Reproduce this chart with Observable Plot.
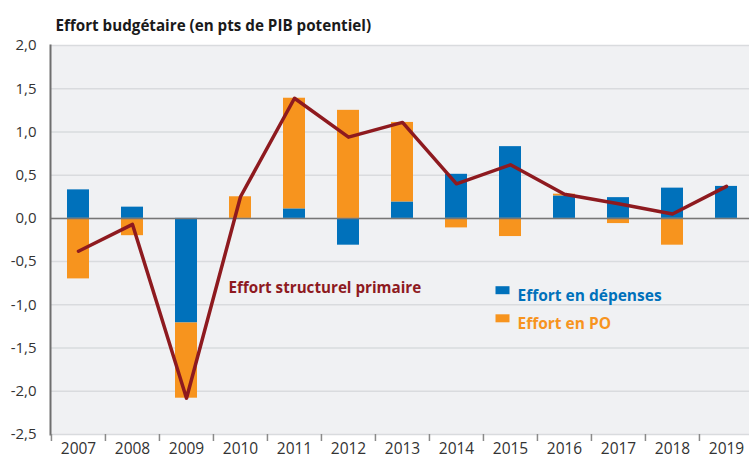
<!DOCTYPE html>
<html><head><meta charset="utf-8">
<script src="https://cdn.jsdelivr.net/npm/d3@7"></script>
<script src="https://cdn.jsdelivr.net/npm/@observablehq/plot@0.6"></script>
<style>body{margin:0;background:#fff;font-family:"Open Sans",sans-serif}</style>
</head><body><div id="chart"></div>
<script>
const years = ["2007","2008","2009","2010","2011","2012","2013","2014","2015","2016","2017","2018","2019"];
const depenses = [0.33, 0.13, -1.21, 0.0, 0.11, -0.31, 0.19, 0.51, 0.83, 0.26, 0.24, 0.35, 0.37];
const po = [-0.70, -0.20, -0.87, 0.25, 1.28, 1.25, 0.92, -0.11, -0.21, 0.02, -0.06, -0.31, 0.0];
const structurel = [-0.38, -0.07, -2.08, 0.25, 1.39, 0.94, 1.11, 0.40, 0.62, 0.28, 0.17, 0.05, 0.37];
const title = "Effort budgétaire (en pts de PIB potentiel)";
const seriesNames = ["Effort en dépenses", "Effort en PO"];
const lineName = "Effort structurel primaire";
const yTicks = [-2.5, -2, -1.5, -1, -0.5, 0, 0.5, 1, 1.5, 2];

const bars = [];
years.forEach((y, i) => {
  bars.push({year: y, series: seriesNames[0], value: depenses[i]});
  bars.push({year: y, series: seriesNames[1], value: po[i]});
});
const lineData = years.map((y, i) => ({year: y, value: structurel[i]}));

const xRange = [50.5, 754];
const step = (xRange[1] - xRange[0]) / years.length;
const colors = ["#0071bb", "#f7941e"];
const lineColor = "#8e1a1f";
const rectSymbol = {draw(ctx) { ctx.rect(-7, -4, 14, 8); }};

const chart = Plot.plot({
  width: 749, height: 458,
  marginLeft: 50, marginRight: 0, marginTop: 45, marginBottom: 24,
  style: {fontFamily: "'Open Sans', sans-serif", background: "#fff"},
  x: {type: "band", domain: years, range: xRange, paddingInner: 0.6, paddingOuter: 0.3, axis: null, label: null},
  y: {domain: [-2.5, 2], axis: null, label: null},
  color: {domain: seriesNames, range: colors},
  marks: [
    Plot.frame({fill: "#f0f1f3", stroke: null}),
    Plot.gridY(yTicks, {stroke: "#d9dbde", strokeOpacity: 1, strokeWidth: 1.5}),
    Plot.barY(bars, {x: "year", y: "value", fill: "series", order: seriesNames}),
    Plot.ruleY([0], {stroke: "#767676", strokeWidth: 1.5}),
    Plot.line(lineData, {x: "year", y: "value", stroke: lineColor, strokeWidth: 3.5}),
    Plot.frame({anchor: "left", stroke: "#6e6e6e", strokeWidth: 2}),
    Plot.axisY(yTicks, {tickSize: 0, tickPadding: 14, tickFormat: d => d.toFixed(1).replace(".", ","), fontSize: 15, fill: "#333", label: null}),
    Plot.axisX({tickSize: 7, tickFormat: () => "", dx: -step / 2, color: "#8a8a8a", strokeWidth: 1.5, label: null}),
    Plot.axisX({tickSize: 0, tickPadding: 8, fontSize: 15.5, fill: "#333", label: null}),
    Plot.text([title], {frameAnchor: "top-left", dx: 5, dy: -25, textAnchor: "start", fontSize: 15.2, fontWeight: "bold", fill: "#1a1a1a"}),
    Plot.text([lineName], {frameAnchor: "top-left", dx: 178, dy: 236.5, textAnchor: "start", fontSize: 15.2, fontWeight: "bold", fill: lineColor}),
    Plot.dot([seriesNames[0]], {frameAnchor: "top-left", dx: 452, dy: 244.7, symbol: rectSymbol, fill: colors[0], stroke: null}),
    Plot.dot([seriesNames[1]], {frameAnchor: "top-left", dx: 452, dy: 272.8, symbol: rectSymbol, fill: colors[1], stroke: null}),
    Plot.text([seriesNames[0]], {frameAnchor: "top-left", dx: 467, dy: 244, textAnchor: "start", fontSize: 15.5, fontWeight: "bold", fill: colors[0]}),
    Plot.text([seriesNames[1]], {frameAnchor: "top-left", dx: 467, dy: 272, textAnchor: "start", fontSize: 15.5, fontWeight: "bold", fill: colors[1]})
  ]
});
document.getElementById("chart").append(chart);
</script>
</body></html>
